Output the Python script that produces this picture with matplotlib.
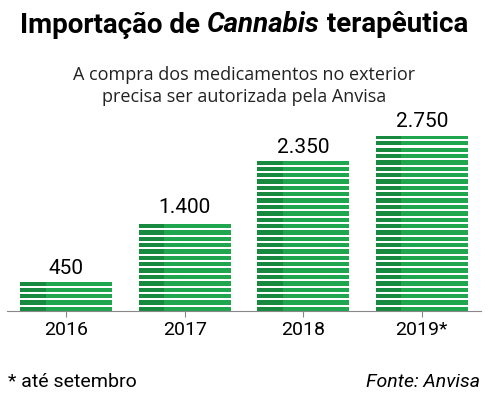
import matplotlib
matplotlib.use("Agg")
import matplotlib.pyplot as plt
from matplotlib.patches import Rectangle

years = ["2016", "2017", "2018", "2019*"]
values = [450, 1400, 2350, 2750]
labels = ["450", "1.400", "2.350", "2.750"]

plt.rcParams['font.family'] = ['Roboto', 'DejaVu Sans']
W, H = 488, 403
fig = plt.figure(figsize=(W/100, H/100), dpi=100)
ax = fig.add_axes([7/W, 92/H, 474/W, 191/H])
ax.set_xlim(-0.5, 3.5)
ax.set_ylim(0, 3000)
bw = 0.78
light, dark = "#1fa64f", "#188a3f"
for i, v in enumerate(values):
    x0 = i - bw/2
    b = 0
    while b < v:
        h = min(68, v - b)
        ax.add_patch(Rectangle((x0, b), bw, h, color=light, lw=0))
        ax.add_patch(Rectangle((x0, b), bw*0.28, h, color=dark, lw=0))
        b += 100
    ax.text(i, v + 70, labels[i], ha='center', va='bottom', fontsize=15)
for s in ['top', 'right', 'left']:
    ax.spines[s].set_visible(False)
ax.spines['bottom'].set_color('#888888')
ax.set_yticks([])
ax.set_xticks(range(4))
ax.set_xticklabels(years, fontsize=14)
ax.tick_params(axis='x', color='#888888', length=4, pad=3)

parts = [("Importação de ", 'normal'), ("Cannabis", 'italic'), (" terapêutica", 'normal')]
r = fig.canvas.get_renderer()
objs = []
for s, st in parts:
    objs.append(fig.text(0, 1-25/H, s, fontsize=20, fontweight='bold', style=st, va='center'))
widths = [o.get_window_extent(r).width for o in objs]
x = (W - sum(widths)) / 2
for o, w in zip(objs, widths):
    o.set_x(x / W); x += w
fig.text(0.5, 1-75/H, "A compra dos medicamentos no exterior", ha='center', va='center', fontsize=13, family=['Open Sans', 'DejaVu Sans'], color='#222222')
fig.text(0.5, 1-97/H, "precisa ser autorizada pela Anvisa", ha='center', va='center', fontsize=13, family=['Open Sans', 'DejaVu Sans'], color='#222222')
fig.text(8/W, 1-382/H, "* até setembro", va='center', fontsize=14)
fig.text(480/W, 1-382/H, "Fonte: Anvisa", va='center', ha='right', fontsize=14, style='italic')
fig.savefig("out.png", dpi=100)
